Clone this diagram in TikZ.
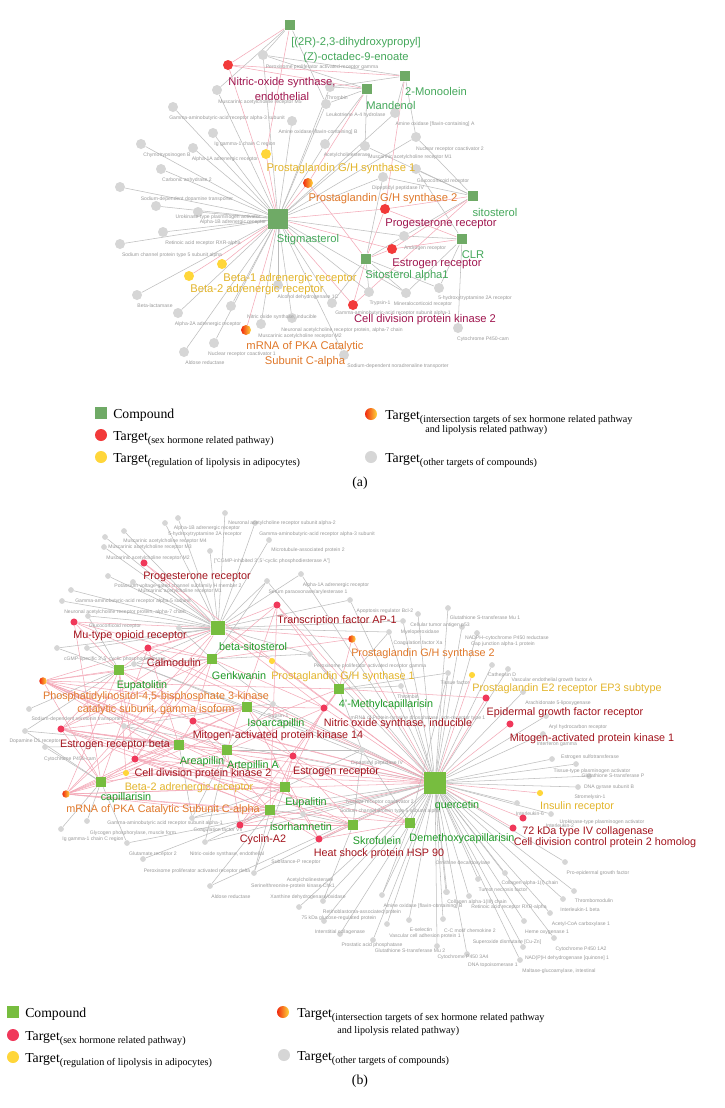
\documentclass[tikz,border=0pt]{standalone}
\usepackage{fontspec}
\setmainfont{Liberation Serif}
\setsansfont{Liberation Sans}
\usetikzlibrary{positioning}
\definecolor{AGreen}{HTML}{6FAA66}
\definecolor{BGreen}{HTML}{77BD3F}
\definecolor{ARed}{HTML}{F23A3A}
\definecolor{BRed}{HTML}{F0385A}
\definecolor{DotYellow}{HTML}{FFD63A}
\definecolor{ORed}{HTML}{F02A10}
\definecolor{DotGray}{HTML}{D6D6D6}
\definecolor{AGreenTxt}{HTML}{45A85B}
\definecolor{BGreenTxt}{HTML}{1F9A27}
\definecolor{ARedTxt}{HTML}{A0164F}
\definecolor{BRedTxt}{HTML}{A3141D}
\definecolor{YellowTxt}{HTML}{E3B52B}
\definecolor{OrangeTxt}{HTML}{E0782A}
\definecolor{TxtGray}{HTML}{9A9A9A}
\definecolor{GrayLine}{HTML}{BDBDBD}
\definecolor{PinkLine}{HTML}{F4A9B8}
\newcommand{\legsub}[1]{\raisebox{-0.5ex}{\fontsize{7.6}{9}\selectfont #1}}
\pgfdeclarelayer{backdrop}
\pgfdeclarelayer{edges}
\pgfsetlayers{backdrop,edges,main}

\begin{document}
\begin{tikzpicture}[x=0.75pt,y=-0.75pt,font=\sffamily,
  gdot/.style={circle,fill=DotGray,inner sep=0pt,minimum size=7.5pt},
  rdot/.style={circle,fill=ARed,inner sep=0pt,minimum size=7.5pt},
  ydot/.style={circle,fill=DotYellow,inner sep=0pt,minimum size=7.5pt},
  odot/.style={circle,inner sep=0pt,minimum size=7.5pt,left color=ORed,middle color=orange,right color=DotYellow},
  cbox/.style={rectangle,fill=AGreen,inner sep=0pt,minimum size=8.2pt},
  bg/.style={gdot,minimum size=4.3pt},
  br/.style={rdot,fill=BRed,minimum size=5.3pt},
  by/.style={ydot,minimum size=4.6pt},
  bo/.style={odot,minimum size=5.6pt},
  bc/.style={cbox,fill=BGreen,minimum size=7.5pt},
  gtxt/.style={font=\sffamily\fontsize{3.8}{4.5}\selectfont,text=TxtGray,inner sep=0pt},
  ctA/.style={font=\sffamily\fontsize{8.4}{11.25}\selectfont,text=AGreenTxt,inner sep=0pt,align=center},
  rtA/.style={ctA,text=ARedTxt},
  ytA/.style={ctA,text=YellowTxt},
  otA/.style={ctA,text=OrangeTxt},
  ctB/.style={font=\sffamily\fontsize{8.1}{9.75}\selectfont,text=BGreenTxt,inner sep=0pt,align=center},
  rtB/.style={ctB,text=BRedTxt},
  ytB/.style={ctB,text=YellowTxt},
  otB/.style={ctB,text=OrangeTxt},
  legtxt/.style={font=\rmfamily\fontsize{10.3}{12}\selectfont,inner sep=0pt,anchor=base west},
  gline/.style={draw=GrayLine,line width=0.4pt},
  pline/.style={draw=PinkLine,line width=0.4pt}]
\useasboundingbox (0,0) rectangle (725,1108);
\begin{pgfonlayer}{backdrop}
\fill[white] (0,0) rectangle (725,1108);
\end{pgfonlayer}

% ---------- panel (a) ----------
\node[gdot] (a1) at (263,55) {};\node[gdot] (a2) at (217,90) {};\node[gdot] (a3) at (173,107) {};\node[gdot] (a4) at (330,87) {};
\node[gdot] (a5) at (326,104) {};\node[gdot] (a6) at (292,121) {};\node[gdot] (a7) at (395,113) {};\node[gdot] (a8) at (213,133) {};
\node[gdot] (a9) at (416,137) {};\node[gdot] (a10) at (141,144) {};\node[gdot] (a11) at (193,148) {};\node[gdot] (a12) at (325,144) {};
\node[gdot] (a13) at (365,146) {};\node[gdot] (a14) at (161,169) {};\node[gdot] (a15) at (416,169) {};\node[gdot] (a16) at (383,177) {};
\node[gdot] (a17) at (120,187) {};\node[gdot] (a18) at (156,206) {};\node[gdot] (a19) at (198,212) {};\node[gdot] (a20) at (163,232) {};
\node[gdot] (a21) at (120,244) {};\node[gdot] (a22) at (404,236) {};\node[gdot] (a23) at (137,295) {};\node[gdot] (a24) at (178,313) {};
\node[gdot] (a25) at (231,306) {};\node[gdot] (a26) at (278,285) {};\node[gdot] (a27) at (292,318) {};\node[gdot] (a28) at (261,324) {};
\node[gdot] (a29) at (214,343) {};\node[gdot] (a30) at (184,352) {};\node[gdot] (a31) at (332,303) {};\node[gdot] (a32) at (369,292) {};
\node[gdot] (a33) at (406,293) {};\node[gdot] (a34) at (439,288) {};\node[gdot] (a35) at (458,328) {};\node[gdot] (a36) at (344,355) {};

\node[gtxt] (ta1) at (322,67) {Peroxisome proliferator activated receptor gamma};
\node[gtxt] (ta2) at (260,102) {Muscarinic acetylcholine receptor M5};
\node[gtxt] (ta3) at (227,118) {Gamma-aminobutyric-acid receptor alpha-3 subunit};
\node[gtxt] (ta4) at (337,98) {Thrombin};
\node[gtxt] (ta5) at (356,115) {Leukotriene A-4 hydrolase};
\node[gtxt] (ta6) at (318,132) {Amine oxidase [flavin-containing] B};
\node[gtxt] (ta7) at (435,124) {Amine oxidase [flavin-containing] A};
\node[gtxt] (ta8) at (245,144) {Ig gamma-1 chain C region};
\node[gtxt] (ta9) at (450,149) {Nuclear receptor coactivator 2};
\node[gtxt] (ta10) at (167,155) {Chymotrypsinogen B};
\node[gtxt] (ta11) at (225,159) {Alpha-1A adrenergic receptor};
\node[gtxt] (ta12) at (347,155) {Acetylcholinesterase};
\node[gtxt] (ta13) at (410,157) {Muscarinic acetylcholine receptor M1};
\node[gtxt] (ta14) at (187,180) {Carbonic anhydrase 2};
\node[gtxt] (ta15) at (443,181) {Glucocorticoid receptor};
\node[gtxt] (ta16) at (398,188) {Dipeptidyl peptidase IV};
\node[gtxt] (ta17) at (187,199) {Sodium-dependent dopamine transporter};
\node[gtxt] (ta18) at (218,217) {Urokinase-type plasminogen activator};
\node[gtxt] (ta19) at (233,222) {Alpha-1B adrenergic receptor};
\node[gtxt] (ta20) at (203,243) {Retinoic acid receptor RXR-alpha};
\node[gtxt] (ta21) at (172,255) {Sodium channel protein type 5 subunit alpha};
\node[gtxt] (ta22) at (425,248) {Androgen receptor};
\node[gtxt] (ta23) at (155,306) {Beta-lactamase};
\node[gtxt] (ta24) at (208,324) {Alpha-2A adrenergic receptor};
\node[gtxt] (ta25) at (282,317) {Nitric oxide synthase, inducible};
\node[gtxt] (ta26) at (308,297) {Alcohol dehydrogenase 1C};
\node[gtxt] (ta27) at (380,303) {Trypsin-1};
\node[gtxt] (ta28) at (423,304) {Mineralocorticoid receptor};
\node[gtxt] (ta29) at (475,298) {5-hydroxytryptamine 2A receptor};
\node[gtxt] (ta30) at (393,313) {Gamma-aminobutyric-acid receptor subunit alpha-1};
\node[gtxt] (ta31) at (342,330) {Neuronal acetylcholine receptor protein, alpha-7 chain};
\node[gtxt] (ta32) at (300,336) {Muscarinic acetylcholine receptor M2};
\node[gtxt] (ta33) at (483,339) {Cytochrome P450-cam};
\node[gtxt] (ta34) at (242,354) {Nuclear receptor coactivator 1};
\node[gtxt] (ta35) at (205,363) {Aldose reductase};
\node[gtxt] (ta36) at (398,366) {Sodium-dependent noradrenaline transporter};

\node[rdot] (aNOS) at (228,65) {};\node[rdot] (aPR) at (385,209) {};\node[rdot] (aER) at (392,249) {};\node[rdot] (aCDK) at (353,305) {};
\node[ydot] (aPG1) at (266,154) {};\node[ydot] (aB1) at (222,264) {};\node[ydot] (aB2) at (189,276) {};
\node[odot] (aPG2) at (308,183) {};\node[odot] (aPKA) at (246,330) {};
\node[cbox] (aT) at (290,25) {};\node[cbox] (aMo) at (405,76) {};\node[cbox] (aMa) at (367,89) {};
\node[cbox] (aSi) at (473,196) {};\node[cbox] (aCLR) at (462,239) {};\node[cbox] (aSa) at (366,259) {};
\node[cbox,minimum size=15pt] (aS) at (278,219) {};

\node[ctA] (aTt) at (356,50) {[(2R)-2,3-dihydroxypropyl]\\(Z)-octadec-9-enoate};
\node[ctA] (aMot) at (436,91) {2-Monoolein};
\node[ctA] (aMat) at (391,105) {Mandenol};
\node[ctA] (aSit) at (495,212) {sitosterol};
\node[ctA] (aCLRt) at (473,255) {CLR};
\node[ctA] (aSat) at (407,276) {Sitosterol alpha1};
\node[ctA] (aSt) at (308,240) {Stigmasterol};
\node[rtA] (aNOSt) at (282,89) {Nitric-oxide synthase,\\endothelial};
\node[rtA] (aPRt) at (441,224) {Progesterone receptor};
\node[rtA] (aERt) at (437,264) {Estrogen receptor};
\node[rtA] (aCDKt) at (425,320) {Cell division protein kinase 2};
\node[ytA] (aPG1t) at (341,169) {Prostaglandin G/H synthase 1};
\node[ytA] (aB1t) at (290,279) {Beta-1 adrenergic receptor};
\node[ytA] (aB2t) at (257,290) {Beta-2 adrenergic receptor};
\node[otA] (aPG2t) at (383,199) {Prostaglandin G/H synthase 2};
\node[otA] (aPKAt) at (305,354) {mRNA of PKA Catalytic\\Subunit C-alpha};

\begin{pgfonlayer}{edges}
\foreach \tgt in {a1,a2,a3,a4,a5,a6,a7,a8,a9,a10,a11,a12,a13,a14,a16,a17,a18,a19,a20,a21,a22,a23,a24,a25,a26,a27,a28,a29,a30,a31,a32,a33,a36}
  \draw[gline] (aS) -- (\tgt);
\foreach \tgt in {aNOS,aPG1,aPG2,aPR,aER,aCDK,aB1,aB2,aPKA}
  \draw[pline] (aS) -- (\tgt);
\foreach \src/\lst in {aT/{a1,a2,a5},aMo/{a1,a7,a9,a4},aMa/{a1,a4,a5,a12,a13},aSi/{a15,a16,a22,a13,a9},aCLR/{a22,a33,a34,a35,a15},aSa/{a22,a31,a32,a33,a16,a34}}
  {\foreach \tgt in \lst {\draw[gline] (\src) -- (\tgt);}}
\foreach \src/\lst in {aT/{aNOS,aPG1},aMo/{aPR,aNOS},aMa/{aNOS,aPG2},aSi/{aPR,aER,aCDK},aCLR/{aPR,aER},aSa/{aER,aPR,aCDK,aPG2}}
  {\foreach \tgt in \lst {\draw[pline] (\src) -- (\tgt);}}
\end{pgfonlayer}

% legend (a)
\node[cbox,minimum size=9pt] (lgA1) at (101,413) {};
\node[legtxt] (lgA1t) at (113,418) {Compound};
\node[rdot,minimum size=9pt] (lgA2) at (101,435) {};
\node[legtxt] (lgA2t) at (113,440) {Target\legsub{(sex hormone related pathway)}};
\node[ydot,minimum size=9pt] (lgA3) at (101,457) {};
\node[legtxt] (lgA3t) at (113,462) {Target\legsub{(regulation of lipolysis in adipocytes)}};
\node[odot,minimum size=9pt] (lgA4) at (371,414) {};
\node[legtxt] (lgA4t) at (385,419) {Target\legsub{(intersection targets of sex hormone related pathway}};
\node[legtxt,font=\rmfamily\fontsize{7.6}{9}\selectfont] (lgA4u) at (425,432) {and lipolysis related pathway)};
\node[gdot,minimum size=9pt] (lgA5) at (371,457) {};
\node[legtxt] (lgA5t) at (385,462) {Target\legsub{(other targets of compounds)}};
\node[font=\rmfamily\fontsize{10.3}{12}\selectfont] (capA) at (360,483) {(a)};

% ---------- panel (b) ----------
\node[bg] (b1) at (225,513) {};\node[bg] (b2) at (165,523) {};\node[bg] (b3) at (178,518) {};\node[bg] (b4) at (124,531) {};
\node[bg] (b5) at (105,537) {};\node[bg] (b6) at (104,547) {};\node[bg] (b7) at (210,551) {};\node[bg] (b8) at (269,540) {};
\node[bg] (b9) at (255,523) {};\node[bg] (b10) at (108,576) {};\node[bg] (b11) at (133,582) {};\node[bg] (b12) at (267,581) {};
\node[bg] (b13) at (301,574) {};\node[bg] (b14) at (350,600) {};\node[bg] (b15) at (71,590) {};\node[bg] (b16) at (62,601) {};
\node[bg] (b17) at (88,616) {};\node[bg] (b18) at (179,628) {};\node[bg] (b19) at (57,648) {};\node[bg] (b20) at (87,648) {};
\node[bg] (b21) at (134,664) {};\node[bg] (b22) at (310,654) {};\node[bg] (b23) at (29,709) {};\node[bg] (b24) at (25,731) {};
\node[bg] (b25) at (45,747) {};\node[bg] (b26) at (124,726) {};\node[bg] (b27) at (273,704) {};\node[bg] (b28) at (401,686) {};
\node[bg] (b29) at (403,621) {};\node[bg] (b30) at (418,614) {};\node[bg] (b31) at (448,608) {};\node[bg] (b32) at (462,627) {};
\node[bg] (b33) at (477,633) {};\node[bg] (b34) at (389,632) {};\node[bg] (b35) at (448,673) {};\node[bg] (b36) at (492,665) {};
\node[bg] (b37) at (508,669) {};\node[bg] (b38) at (523,692) {};\node[bg] (b39) at (546,716) {};\node[bg] (b40) at (543,734) {};
\node[bg] (b41) at (552,759) {};\node[bg] (b42) at (576,764) {};\node[bg] (b43) at (589,776) {};\node[bg] (b44) at (578,787) {};
\node[bg] (b45) at (517,803) {};\node[bg] (b46) at (551,814) {};\node[bg] (b47) at (565,862) {};\node[bg] (b48) at (574,891) {};
\node[bg] (b49) at (505,873) {};\node[bg] (b50) at (478,879) {};\node[bg] (b51) at (447,892) {};\node[bg] (b52) at (382,895) {};
\node[bg] (b53) at (362,750) {};\node[bg] (b54) at (87,821) {};\node[bg] (b55) at (61,829) {};\node[bg] (b56) at (127,843) {};
\node[bg] (b57) at (192,818) {};\node[bg] (b58) at (205,842) {};\node[bg] (b59) at (143,859) {};\node[bg] (b60) at (254,873) {};
\node[bg] (b61) at (210,886) {};\node[bg] (b62) at (303,814) {};\node[bg] (b63) at (299,907) {};\node[bg] (b64) at (323,901) {};
\node[bg] (b65) at (387,924) {};\node[bg] (b66) at (340,934) {};\node[bg] (b67) at (443,919) {};\node[bg] (b68) at (409,920) {};
\node[bg] (b69) at (446,892) {};\node[bg] (b70) at (469,896) {};\node[bg] (b71) at (563,899) {};\node[bg] (b72) at (324,921) {};
\node[bg] (b73) at (373,940) {};\node[bg] (b74) at (437,946) {};\node[bg] (b75) at (467,954) {};\node[bg] (b76) at (524,921) {};
\node[bg] (b77) at (550,913) {};\node[bg] (b78) at (554,938) {};\node[bg] (b79) at (523,947) {};\node[bg] (b80) at (520,960) {};

\node[gtxt] (tb1) at (282,523) {Neuronal acetylcholine receptor subunit alpha-2};
\node[gtxt] (tb2) at (207,528) {Alpha-1B adrenergic receptor};
\node[gtxt] (tb3) at (205,534) {5-hydroxytryptamine 2A receptor};
\node[gtxt] (tb4) at (317,534) {Gamma-aminobutyric-acid receptor alpha-3 subunit};
\node[gtxt] (tb5) at (165,541) {Muscarinic acetylcholine receptor M4};
\node[gtxt] (tb6) at (150,547) {Muscarinic acetylcholine receptor M3};
\node[gtxt] (tb7) at (308,550) {Microtubule-associated protein 2};
\node[gtxt] (tb8) at (148,558) {Muscarinic acetylcholine receptor M2};
\node[gtxt] (tb9) at (272,561) {["CGMP-inhibited 3',5'-cyclic phosphodiesterase A"]};
\node[gtxt] (tb10) at (336,585) {Alpha-1A adrenergic receptor};
\node[gtxt] (tb11) at (178,586) {Potassium voltage-gated channel subfamily H member 2};
\node[gtxt] (tb12) at (180,591) {Muscarinic acetylcholine receptor M1};
\node[gtxt] (tb13) at (308,592) {Serum paraoxonase/arylesterase 1};
\node[gtxt] (tb14) at (133,601) {Gamma-aminobutyric-acid receptor alpha-5 subunit};
\node[gtxt] (tb15) at (125,612) {Neuronal acetylcholine receptor protein, alpha-7 chain};
\node[gtxt] (tb16) at (385,611) {Apoptosis regulator Bcl-2};
\node[gtxt] (tb17) at (115,626) {Glucocorticoid receptor};
\node[gtxt] (tb18) at (440,625) {Cellular tumor antigen p53};
\node[gtxt] (tb19) at (420,632) {Myeloperoxidase};
\node[gtxt] (tb20) at (418,643) {Coagulation factor Xa};
\node[gtxt] (tb21) at (370,666) {Peroxisome proliferator activated receptor gamma};
\node[gtxt] (tb22) at (455,683) {Tissue factor};
\node[gtxt] (tb23) at (408,697) {Thrombin};
\node[gtxt] (tb24) at (418,718) {mRNA of Protein-tyrosine phosphatase, non-receptor type 1};
\node[gtxt] (tb25) at (115,659) {cGMP-specific 3',5'-cyclic phosphodiesterase};
\node[gtxt] (tb26) at (77,719) {Sodium-dependent serotonin transporter};
\node[gtxt] (tb27) at (35,741) {Dopamine D1 receptor};
\node[gtxt] (tb28) at (70,759) {Cytochrome P450-cam};
\node[gtxt] (tb29) at (278,716) {Trypsin-1};
\node[gtxt] (tb30) at (165,823) {Gamma-aminobutyric acid receptor subunit alpha-1};
\node[gtxt] (tb31) at (218,830) {Coagulation factor VII};
\node[gtxt] (tb32) at (133,833) {Glycogen phosphorylase, muscle form};
\node[gtxt] (tb33) at (93,839) {Ig gamma-1 chain C region};
\node[gtxt] (tb34) at (153,854) {Glutamate receptor 2};
\node[gtxt] (tb35) at (227,854) {Nitric-oxide synthase, endothelial};
\node[gtxt] (tb36) at (296,862) {Substance-P receptor};
\node[gtxt] (tb37) at (197,871) {Peroxisome proliferator activated receptor delta};
\node[gtxt] (tb38) at (310,880) {Acetylcholinesterase};
\node[gtxt] (tb39) at (293,886) {Serine/threonine-protein kinase Chk1};
\node[gtxt] (tb40) at (231,897) {Aldose reductase};
\node[gtxt] (tb41) at (308,897) {Xanthine dehydrogenase/oxidase};
\node[gtxt] (tb42) at (362,912) {Retinoblastoma-associated protein};
\node[gtxt] (tb43) at (339,918) {75 kDa glucose-regulated protein};
\node[gtxt] (tb44) at (340,932) {Interstitial collagenase};
\node[gtxt] (tb45) at (390,811) {Sodium channel protein type 5 subunit alpha};
\node[gtxt] (tb46) at (380,802) {Nuclear receptor coactivator 2};
\node[gtxt] (tb47) at (377,763) {Dipeptidyl peptidase IV};
\node[gtxt] (tb48) at (558,703) {Arachidonate 5-lipoxygenase};
\node[gtxt] (tb49) at (578,727) {Aryl hydrocarbon receptor};
\node[gtxt] (tb50) at (557,744) {Interferon gamma};
\node[gtxt] (tb51) at (590,757) {Estrogen sulfotransferase};
\node[gtxt] (tb52) at (592,771) {Tissue-type plasminogen activator};
\node[gtxt] (tb53) at (613,776) {Glutathione S-transferase P};
\node[gtxt] (tb54) at (609,787) {DNA gyrase subunit B};
\node[gtxt] (tb55) at (590,797) {Stromelysin-1};
\node[gtxt] (tb56) at (530,814) {Interleukin-6};
\node[gtxt] (tb57) at (560,826) {Interleukin-2};
\node[gtxt] (tb58) at (602,822) {Urokinase-type plasminogen activator};
\node[gtxt] (tb59) at (463,863) {Ornithine decarboxylase};
\node[gtxt] (tb60) at (598,873) {Pro-epidermal growth factor};
\node[gtxt] (tb61) at (530,883) {Collagen alpha-1(I) chain};
\node[gtxt] (tb62) at (503,890) {Tumor necrosis factor};
\node[gtxt] (tb63) at (485,618) {Glutathione S-transferase Mu 1};
\node[gtxt] (tb64) at (507,638) {NADPH--cytochrome P450 reductase};
\node[gtxt] (tb65) at (503,644) {Gap junction alpha-1 protein};
\node[gtxt] (tb66) at (502,675) {Cathepsin D};
\node[gtxt] (tb67) at (552,680) {Vascular endothelial growth factor A};
\node[gtxt] (tb68) at (594,901) {Thrombomodulin};
\node[gtxt] (tb69) at (477,902) {Collagen alpha-1(III) chain};
\node[gtxt] (tb70) at (509,907) {Retinoic acid receptor RXR-alpha};
\node[gtxt] (tb71) at (423,906) {Amine oxidase [flavin-containing] B};
\node[gtxt] (tb72) at (580,910) {Interleukin-1 beta};
\node[gtxt] (tb73) at (581,924) {Acetyl-CoA carboxylase 1};
\node[gtxt] (tb74) at (421,930) {E-selectin};
\node[gtxt] (tb75) at (470,931) {C-C motif chemokine 2};
\node[gtxt] (tb76) at (425,936) {Vascular cell adhesion protein 1};
\node[gtxt] (tb77) at (547,932) {Heme oxygenase 1};
\node[gtxt] (tb78) at (507,942) {Superoxide dismutase [Cu-Zn]};
\node[gtxt] (tb79) at (372,945) {Prostatic acid phosphatase};
\node[gtxt] (tb80) at (581,949) {Cytochrome P450 1A2};
\node[gtxt] (tb81) at (410,951) {Glutathione S-transferase Mu 2};
\node[gtxt] (tb82) at (463,957) {Cytochrome P450 3A4};
\node[gtxt] (tb83) at (567,958) {NAD(P)H dehydrogenase [quinone] 1};
\node[gtxt] (tb84) at (493,965) {DNA topoisomerase 1};
\node[gtxt] (tb85) at (559,971) {Maltase-glucoamylase, intestinal};

\node[br] (bPR) at (144,563) {};\node[br] (bAP1) at (277,605) {};\node[br] (bMOR) at (74,622) {};\node[br] (bCaM) at (148,648) {};
\node[br] (bMAPK14) at (193,721) {};\node[br] (bERb) at (61,729) {};\node[br] (bCDK2) at (135,759) {};\node[br] (bER) at (293,756) {};
\node[br] (bNOS) at (324,708) {};\node[br] (bCyc) at (240,825) {};\node[br] (bHSP) at (319,839) {};\node[br] (bEGFR) at (486,698) {};
\node[br] (bMAPK1) at (510,724) {};\node[br] (bMMP2) at (523,818) {};\node[br] (bCDC2) at (513,828) {};
\node[bo] (bPG2) at (352,639) {};\node[bo] (bPI3K) at (43,681) {};\node[bo] (bPKA) at (66,794) {};
\node[by] (bPG1) at (272,661) {};\node[by] (bEP3) at (472,675) {};\node[by] (bB2) at (126,773) {};\node[by] (bIR) at (540,793) {};
\node[bc,minimum size=11pt] (bBS) at (218,628) {};\node[bc] (bGe) at (212,659) {};\node[bc] (bEu) at (119,670) {};
\node[bc] (bMC) at (339,689) {};\node[bc] (bIs) at (247,707) {};\node[bc] (bAr) at (179,745) {};\node[bc] (bAA) at (227,750) {};
\node[bc] (bCa) at (101,782) {};\node[bc] (bEp) at (285,787) {};\node[bc] (bIh) at (270,810) {};\node[bc] (bSk) at (353,825) {};
\node[bc] (bDm) at (410,823) {};\node[bc,minimum size=16.5pt] (bQ) at (435,783) {};

\node[ctB] (bBSt) at (253,647) {beta-sitosterol};
\node[ctB] (bGet) at (239,676) {Genkwanin};
\node[ctB] (bEut) at (142,686) {Eupatolitin};
\node[ctB] (bMCt) at (386,705) {4'-Methylcapillarisin};
\node[ctB] (bIst) at (276,724) {Isoarcapillin};
\node[ctB] (bArt) at (202,762) {Areapillin};
\node[ctB] (bAAt) at (253,766) {Artepillin A};
\node[ctB] (bCat) at (126,798) {capillarisin};
\node[ctB] (bEpt) at (306,803) {Eupalitin};
\node[ctB] (bIht) at (301,827) {isorhamnetin};
\node[ctB] (bSkt) at (377,841) {Skrofulein};
\node[ctB] (bDmt) at (462,839) {Demethoxycapillarisin};
\node[ctB] (bQt) at (457,806) {quercetin};
\node[rtB] (bPRt) at (197,577) {Progesterone receptor};
\node[rtB] (bAP1t) at (337,621) {Transcription factor AP-1};
\node[rtB] (bMORt) at (130,636) {Mu-type opioid receptor};
\node[rtB] (bCaMt) at (174,663) {Calmodulin};
\node[rtB] (bMAPK14t) at (278,736) {Mitogen-activated protein kinase 14};
\node[rtB] (bERbt) at (115,745) {Estrogen receptor beta};
\node[rtB] (bCDK2t) at (203,774) {Cell division protein kinase 2};
\node[rtB] (bERt) at (336,772) {Estrogen receptor};
\node[rtB] (bNOSt) at (398,724) {Nitric oxide synthase, inducible};
\node[rtB] (bCyct) at (263,840) {Cyclin-A2};
\node[rtB] (bHSPt) at (379,854) {Heat shock protein HSP 90};
\node[rtB] (bEGFRt) at (565,713) {Epidermal growth factor receptor};
\node[rtB] (bMAPK1t) at (592,739) {Mitogen-activated protein kinase 1};
\node[rtB] (bMMP2t) at (588,832) {72 kDa type IV collagenase};
\node[rtB] (bCDC2t) at (605,843) {Cell division control protein 2 homolog};
\node[otB] (bPG2t) at (423,654) {Prostaglandin G/H synthase 2};
\node[otB] (bPI3Kt) at (156,703) {Phosphatidylinositol-4,5-bisphosphate 3-kinase\\catalytic subunit, gamma isoform};
\node[otB] (bPKAt) at (163,810) {mRNA of PKA Catalytic Subunit C-alpha};
\node[ytB] (bPG1t) at (343,677) {Prostaglandin G/H synthase 1};
\node[ytB] (bEP3t) at (567,689) {Prostaglandin E2 receptor EP3 subtype};
\node[ytB] (bB2t) at (189,788) {Beta-2 adrenergic receptor};
\node[ytB] (bIRt) at (577,807) {Insulin receptor};

\begin{pgfonlayer}{edges}
\foreach \tgt in {b1,b2,b3,b4,b5,b6,b7,b8,b9,b10,b11,b12,b13,b14,b15,b16,b17,b18,b19,b20,b21,b22,b29,b34}
  \draw[gline] (bBS) -- (\tgt);
\foreach \tgt in {bPR,bMOR,bCaM,bAP1,bPG2,bPG1,bERb,bCDK2,bNOS,bPI3K,bPKA}
  \draw[pline] (bBS) -- (\tgt);
\foreach \tgt in {b12,b13,b14,b21,b22,b26,b27,b28,b29,b30,b31,b32,b33,b34,b35,b36,b37,b38,b39,b40,b41,b42,b43,b44,b45,b46,b47,b48,b49,b50,b51,b52,b53,b56,b57,b58,b60,b61,b62,b63,b64,b65,b66,b67,b68,b69,b70,b71,b72,b73,b74,b75,b76,b77,b78,b79,b80}
  \draw[gline] (bQ) -- (\tgt);
\foreach \tgt in {bEGFR,bMAPK1,bMMP2,bCDC2,bIR,bEP3,bER,bNOS,bHSP,bCyc,bCDK2,bMAPK14,bERb,bAP1,bPG2,bPG1,bPKA,bPI3K,bB2,bPR,bMOR,bCaM}
  \draw[pline] (bQ) -- (\tgt);
\foreach \src/\lst in {bGe/{b18,b21,b22,b27,b12},bEu/{b17,b19,b20,b21,b23,b24},bMC/{b22,b28,b34,b35,b53},bIs/{b21,b26,b27,b53},bAr/{b24,b25,b26,b57},bAA/{b27,b53,b57,b58},bCa/{b24,b25,b54,b55,b56},bEp/{b53,b57,b60,b62},bIh/{b58,b59,b60,b61,b62},bSk/{b53,b62,b64},bDm/{b35,b52,b53}}
  {\foreach \tgt in \lst {\draw[gline] (\src) -- (\tgt);}}
\foreach \src/\lst in {bGe/{bPI3K,bPKA,bMAPK14,bNOS,bAP1,bPG2,bCaM,bERb,bCDK2,bMOR},bEu/{bPI3K,bPKA,bERb,bCDK2,bMAPK14,bCaM,bMOR,bB2,bER},bMC/{bPG2,bNOS,bAP1,bER,bPKA,bPI3K,bEGFR,bCyc},bIs/{bPI3K,bPKA,bMAPK14,bNOS,bER,bCDK2,bERb,bHSP},bAr/{bPI3K,bPKA,bERb,bCDK2,bB2,bMAPK14,bER,bCaM},bAA/{bPI3K,bPKA,bERb,bER,bCyc,bMAPK14,bNOS,bAP1},bCa/{bPI3K,bPKA,bERb,bCDK2,bB2,bER,bMOR,bCaM},bEp/{bPI3K,bPKA,bER,bCyc,bHSP,bNOS,bERb,bCDK2},bIh/{bPI3K,bPKA,bCyc,bHSP,bER,bCDK2,bERb,bAP1,bMAPK14},bSk/{bPKA,bHSP,bCyc,bER,bPI3K,bERb},bDm/{bPKA,bHSP,bER,bPI3K,bCDK2}}
  {\foreach \tgt in \lst {\draw[pline] (\src) -- (\tgt);}}
\end{pgfonlayer}

% legend (b)
\node[cbox,fill=BGreen,minimum size=9pt] (lgB1) at (13,1012) {};
\node[legtxt] (lgB1t) at (25,1017) {Compound};
\node[rdot,fill=BRed,minimum size=9pt] (lgB2) at (13,1035) {};
\node[legtxt] (lgB2t) at (25,1040) {Target\legsub{(sex hormone related pathway)}};
\node[ydot,minimum size=9pt] (lgB3) at (13,1057) {};
\node[legtxt] (lgB3t) at (25,1062) {Target\legsub{(regulation of lipolysis in adipocytes)}};
\node[odot,minimum size=9pt] (lgB4) at (283,1012) {};
\node[legtxt] (lgB4t) at (297,1017) {Target\legsub{(intersection targets of sex hormone related pathway}};
\node[legtxt,font=\rmfamily\fontsize{7.6}{9}\selectfont] (lgB4u) at (337,1033) {and lipolysis related pathway)};
\node[gdot,minimum size=9pt] (lgB5) at (284,1055) {};
\node[legtxt] (lgB5t) at (297,1060) {Target\legsub{(other targets of compounds)}};
\node[font=\rmfamily\fontsize{10.3}{12}\selectfont] (capB) at (360,1081) {(b)};
\end{tikzpicture}
\end{document}
